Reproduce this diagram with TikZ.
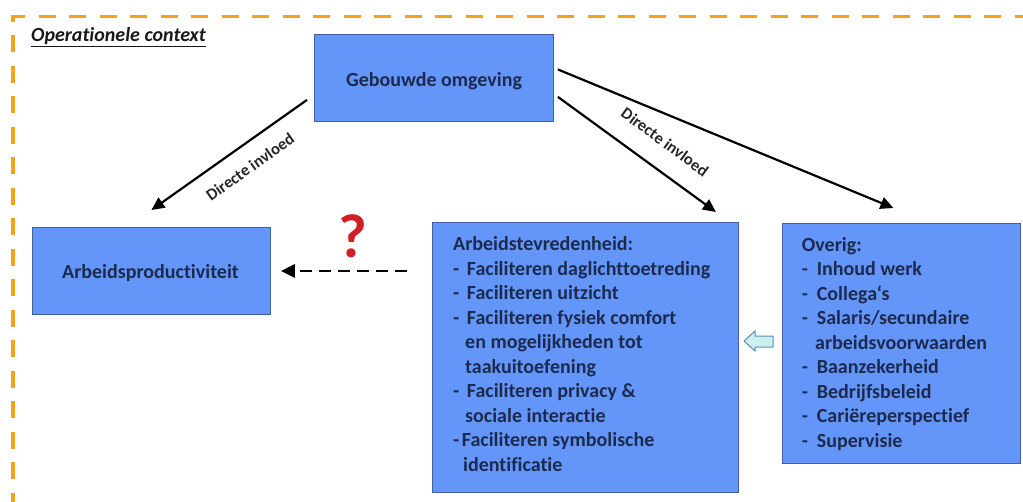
\documentclass[tikz,border=0pt]{standalone}
\usepackage{fontspec}
\setmainfont{Carlito}[Ligatures=NoCommon]
\usetikzlibrary{arrows.meta,calc}
\definecolor{boxblue}{HTML}{6496FA}
\definecolor{boxedge}{HTML}{41609E}
\definecolor{navy}{HTML}{1C2A4E}
\definecolor{frameorange}{HTML}{F7A21B}
\definecolor{qred}{HTML}{D21F26}
\definecolor{pale}{HTML}{CDEFF0}
\definecolor{paleedge}{HTML}{5B8FB0}
\begin{document}
\begin{tikzpicture}[x=1pt,y=-1pt,
  box/.style={draw=boxedge, line width=0.9pt, fill=boxblue, inner sep=0pt, anchor=north west},
  boxtext/.style={text=navy, font=\fontsize{20}{24.5}\selectfont\bfseries, inner sep=0pt},
  influence/.style={line width=2.2pt, -{Triangle[length=13pt,width=12pt]}},
  lbl/.style={text=black!85, font=\fontsize{16.5}{18}\selectfont\bfseries, inner sep=0pt},
  frame/.style={draw=frameorange, line width=3.8pt, dash pattern=on 17pt off 13.5pt}]
\useasboundingbox (0,0) rectangle (1023,501);
\clip (0,0) rectangle (1023,501);

% outer context frame
\draw[frame] (13,540) -- (13,16.5) -- (1060,16.5);
\node[anchor=base west, inner sep=0pt, text=black!90,
      font=\fontsize{20}{24}\selectfont\bfseries\itshape] (ttl) at (31,41.7)
      {\underline{Operationele context}};

% boxes
\node[box, minimum width=239, minimum height=87] (go) at (314,34) {};
\node[box, minimum width=238, minimum height=87] (ap) at (32,227) {};
\node[box, minimum width=306, minimum height=270] (ts) at (432,222) {};
\node[box, minimum width=238, minimum height=240] (ov) at (782,223) {};

% box texts
\node[boxtext, anchor=base] (goT) at (434,86.7) {Gebouwde omgeving};
\node[boxtext, anchor=base] (apT) at (150.5,278.3) {Arbeidsproductiviteit};
\node[boxtext, anchor=base west] (tsT) at (453,250.8) {\parbox[t]{280pt}{\raggedright
  Arbeidstevredenheid:\\
  \makebox[13.7pt][l]{-}Faciliteren daglichttoetreding\\
  \makebox[13.7pt][l]{-}Faciliteren uitzicht\\
  \makebox[13.7pt][l]{-}Faciliteren fysiek comfort\\
  \hspace*{12pt}en mogelijkheden tot\\
  \hspace*{12pt}taakuitoefening\\
  \makebox[13.7pt][l]{-}Faciliteren privacy \&\\
  \hspace*{12pt}sociale interactie\\
  \makebox[8.7pt][l]{-}Faciliteren symbolische\\
  \hspace*{10pt}identificatie}};
\node[boxtext, anchor=base west] (ovT) at (801.7,251) {\parbox[t]{215pt}{\raggedright
  Overig:\\
  \makebox[15pt][l]{-}Inhoud werk\\
  \makebox[15pt][l]{-}Collega\symbol{96}s\\
  \makebox[15pt][l]{-}Salaris/secundaire\\
  \hspace*{13.3pt}arbeidsvoorwaarden\\
  \makebox[15pt][l]{-}Baanzekerheid\\
  \makebox[15pt][l]{-}Bedrijfsbeleid\\
  \makebox[15pt][l]{-}Cariëreperspectief\\
  \makebox[15pt][l]{-}Supervisie}};

% direct influences
\draw[influence] ($(go.south west)+(-7,-22)$) -- ($(ap.north)+(0,-17)$);
\draw[influence] ($(go.south east)+(4,-25)$) -- ($(ts.north east)+(-23,-10)$);
\draw[influence] ($(go.east)+(4,-8.5)$) -- ($(ov.north)+(-8,-15)$);
\node[lbl, rotate=35.4] (l1) at (250,167) {Directe invloed};
\node[lbl, rotate=-36.3] (l2) at (665,142) {Directe invloed};

% uncertain relation
\draw[line width=2.8pt, dash pattern=on 12pt off 7pt, -{Triangle[length=14pt,width=13pt]}]
  ($(ts.west |- ap.east)+(-25,0)$) -- ($(ap.east)+(10,0)$);
\node[anchor=base, inner sep=0pt, text=qred, font=\fontsize{62}{62}\selectfont\bfseries] (q) at (352.5,257.3) {?};

% block arrow from Overig towards Arbeidstevredenheid
\draw[fill=pale, draw=paleedge, line width=1pt, line join=miter]
  (744,341) -- (755,331) -- (755,336) -- (773,336) -- (773,347) -- (755,347) -- (755,351) -- cycle;
\end{tikzpicture}
\end{document}
